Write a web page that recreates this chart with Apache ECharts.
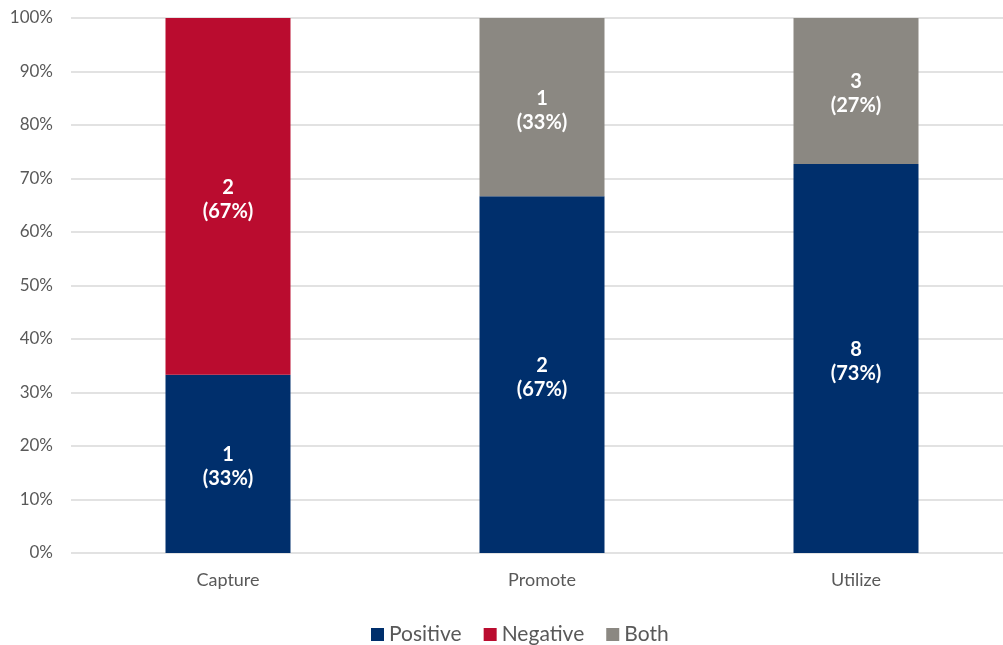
<!DOCTYPE html>
<html>
<head>
<meta charset="utf-8">
<script src="https://cdn.jsdelivr.net/npm/echarts@6/dist/echarts.min.js"></script>
<style>
  html, body { margin: 0; padding: 0; background: #fff; }
  #chart { width: 1003px; height: 645px; }
</style>
</head>
<body>
<div id="chart"></div>
<script>
// Response counts per stage
const categories = ['Capture', 'Promote', 'Utilize'];
const positiveCounts = [1, 2, 8];
const negativeCounts = [2, 0, 0];
const bothCounts = [0, 1, 3];
const yTickLabels = ['0%', '10%', '20%', '30%', '40%', '50%', '60%', '70%', '80%', '90%', '100%'];

const totals = categories.map((_, i) => positiveCounts[i] + negativeCounts[i] + bothCounts[i]);
const share = (counts) => counts.map((c, i) => ({ value: c / totals[i] * 100, count: c }));

const FONT = 'Lato, "Open Sans", sans-serif';
const TEXT = '#595959';

function makeSeries(name, counts, color) {
  return {
    name: name,
    type: 'bar',
    stack: 'total',
    barWidth: 125,
    data: share(counts),
    itemStyle: { color: color },
    label: {
      show: true,
      position: 'inside',
      offset: [0, 3],
      color: '#fff',
      fontFamily: FONT,
      fontWeight: 'bold',
      fontSize: 20,
      lineHeight: 24,
      formatter: (p) => p.data.count ? p.data.count + '\n(' + Math.round(p.data.value) + '%)' : ''
    }
  };
}

const chart = echarts.init(document.getElementById('chart'));
chart.setOption({
  animation: false,
  // plot area runs slightly past the right edge of the canvas
  grid: { left: 71, width: 942, top: 18, bottom: 92, outerBoundsMode: 'none' },
  legend: {
    top: 619,
    left: 366,
    itemWidth: 13,
    itemHeight: 13,
    itemGap: 22,
    icon: 'rect',
    textStyle: { color: TEXT, fontSize: 21, fontFamily: FONT }
  },
  xAxis: {
    type: 'category',
    data: categories,
    axisLine: { show: false },
    axisTick: { show: false },
    axisLabel: { color: TEXT, fontSize: 18, fontFamily: FONT, margin: 18 }
  },
  yAxis: {
    type: 'value',
    min: 0,
    max: 100,
    interval: 10,
    axisLine: { show: false },
    axisTick: { show: false },
    axisLabel: {
      color: TEXT, fontSize: 17, fontFamily: FONT, margin: 18,
      formatter: (v) => yTickLabels[Math.round(v / 10)]
    },
    splitLine: { lineStyle: { color: '#d9d9d9', width: 1.5 } }
  },
  series: [
    makeSeries('Positive', positiveCounts, '#002F6C'),
    makeSeries('Negative', negativeCounts, '#BA0C2F'),
    makeSeries('Both', bothCounts, '#8B8882')
  ]
});
</script>
</body>
</html>
